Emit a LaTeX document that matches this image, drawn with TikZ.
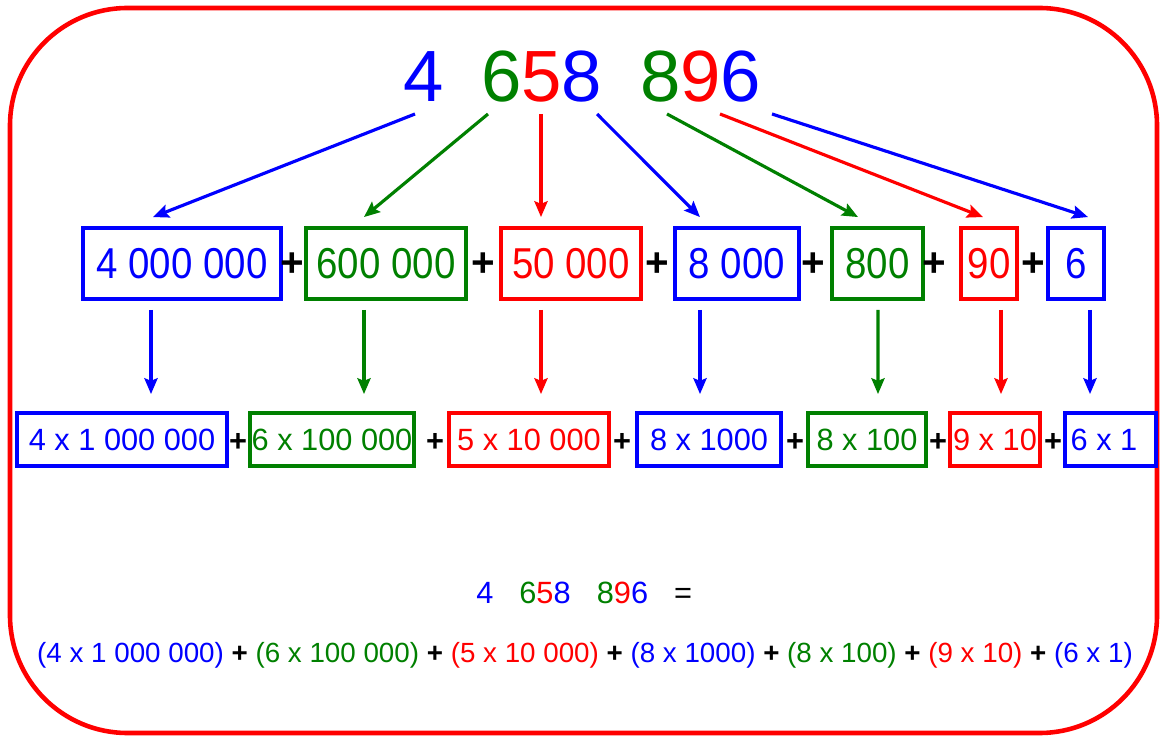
\documentclass[tikz,border=0pt]{standalone}
\usepackage{fontspec}
\setmainfont{Liberation Sans}
\newfontfamily\rowfont[FakeStretch=0.89]{Liberation Sans}
\usetikzlibrary{arrows.meta}
\definecolor{cb}{RGB}{0,0,255}
\definecolor{cg}{RGB}{0,128,0}
\definecolor{cr}{RGB}{255,0,0}
\begin{document}
\begin{tikzpicture}[x=0.02cm,y=-0.02cm,
  big/.style={anchor=base,inner sep=0pt,font=\fontsize{41.3}{48}\selectfont},
  rA/.style={draw=#1,text=#1,line width=2.2pt,inner sep=0pt,minimum height=71*0.02cm,font=\rowfont\fontsize{24.6}{28}\selectfont},
  rB/.style={draw=#1,text=#1,line width=2.2pt,inner sep=0pt,minimum height=53*0.02cm,font=\fontsize{17.5}{20}\selectfont},
  plA/.style={inner sep=0pt,font=\bfseries\fontsize{23}{28}\selectfont},
  plB/.style={inner sep=0pt,font=\bfseries\fontsize{17.5}{20}\selectfont},
  sm/.style={anchor=base,inner sep=0pt,font=\fontsize{17.5}{20}\selectfont},
  arr/.style={line width=1.8pt,-{Stealth[length=9pt,width=7.5pt,inset=1.5pt]}}]
\useasboundingbox (0,0) rectangle (1169,742);
\draw[cr,line width=2.6pt,rounded corners=2.35cm] (10,8) rectangle (1157,733);

% top number
\node[big,text=cb] (t1) at (424,102) {4};
\node[big,text=cg] (t2) at (502,102) {6};
\node[big,text=cr] (t3) at (542,102) {5};
\node[big,text=cb] (t4) at (582,102) {8};
\node[big,text=cg] (t5) at (661,102) {8};
\node[big,text=cr] (t6) at (701,102) {9};
\node[big,text=cb] (t7) at (741,102) {6};

% row 1
\node[rA=cb,minimum width=198*0.02cm] (a1) at (182,263.5) {4 000 000};
\node[rA=cg,minimum width=160*0.02cm] (a2) at (386,263.5) {600 000};
\node[rA=cr,minimum width=140*0.02cm] (a3) at (571,263.5) {50 000};
\node[rA=cb,minimum width=124*0.02cm] (a4) at (737,263.5) {8 000};
\node[rA=cg,minimum width=91*0.02cm] (a5) at (877.5,263.5) {800};
\node[rA=cr,minimum width=56*0.02cm] (a6) at (989,263.5) {90};
\node[rA=cb,minimum width=56*0.02cm] (a7) at (1076,263.5) {6};
\node[plA] (pa1) at (292,265) {+};
\node[plA] (pa2) at (483,265) {+};
\node[plA] (pa3) at (657,265) {+};
\node[plA] (pa4) at (813,265) {+};
\node[plA] (pa5) at (934,265) {+};
\node[plA] (pa6) at (1033,265) {+};

% row 2
\node[rB=cb,minimum width=210*0.02cm] (b1) at (122,439.5) {4 x 1 000 000};
\node[rB=cg,minimum width=164*0.02cm] (b2) at (332,439.5) {6 x 100 000};
\node[rB=cr,minimum width=160*0.02cm] (b3) at (529,439.5) {5 x 10 000};
\node[rB=cb,minimum width=144*0.02cm] (b4) at (709,439.5) {8 x 1000};
\node[rB=cg,minimum width=118*0.02cm] (b5) at (867,439.5) {8 x 100};
\node[rB=cr,minimum width=90*0.02cm] (b6) at (995,439.5) {9 x 10};
\node[rB=cb,minimum width=91*0.02cm] (b7) at (1110.5,439.5) {6 x 1\hspace*{0.26cm}};
\node[plB] (pb1) at (238,442) {+};
\node[plB] (pb2) at (435,442) {+};
\node[plB] (pb3) at (622,442) {+};
\node[plB] (pb4) at (795,442) {+};
\node[plB] (pb5) at (938,442) {+};
\node[plB] (pb6) at (1053,442) {+};

% top arrows
\draw[arr,cb] ([shift={(-9,12)}]t1.base) -- ([shift={(-29,-9)}]a1.north);
\draw[arr,cg] ([shift={(-14,12)}]t2.base) -- ([shift={(-22,-9)}]a2.north);
\draw[arr,cr] ([shift={(-1,12)}]t3.base) -- ([shift={(-30,-9)}]a3.north);
\draw[arr,cb] ([shift={(15,12)}]t4.base) -- ([shift={(-37,-9)}]a4.north);
\draw[arr,cg] ([shift={(6,12)}]t5.base) -- ([shift={(-19.5,-9)}]a5.north);
\draw[arr,cr] ([shift={(19,12)}]t6.base) -- ([shift={(-6,-9)}]a6.north);
\draw[arr,cb] ([shift={(31,12)}]t7.base) -- ([shift={(12,-9)}]a7.north);

% down arrows
\draw[arr,cb] ([shift={(-31,9)}]a1.south) -- ([shift={(29,-17)}]b1.north);
\draw[arr,cg] ([shift={(-22,9)}]a2.south) -- ([shift={(32,-17)}]b2.north);
\draw[arr,cr] ([shift={(-30,9)}]a3.south) -- ([shift={(12,-17)}]b3.north);
\draw[arr,cb] ([shift={(-37,9)}]a4.south) -- ([shift={(-9,-17)}]b4.north);
\draw[arr,cg] ([shift={(0.5,9)}]a5.south) -- ([shift={(11,-17)}]b5.north);
\draw[arr,cr] ([shift={(12,9)}]a6.south) -- ([shift={(6,-17)}]b6.north);
\draw[arr,cb] ([shift={(14,9)}]a7.south) -- ([shift={(-20.5,-17)}]b7.north);

% bottom
\node[sm,text=cb] (n1) at (485,603) {4};
\node[sm] (n2) at (545,603) {\color{cg}6\color{cr}5\color{cb}8};
\node[sm] (n3) at (622.5,603) {\color{cg}8\color{cr}9\color{cb}6};
\node[sm] (n4) at (683,603) {=};
\node[anchor=base,inner sep=0pt,font=\fontsize{15.8}{18}\selectfont] (eq) at (585,662)
 {{\color{cb}(4 x 1 000 000)} \textbf{+} {\color{cg}(6 x 100 000)} \textbf{+} {\color{cr}(5 x 10 000)} \textbf{+} {\color{cb}(8 x 1000)} \textbf{+} {\color{cg}(8 x 100)} \textbf{+} {\color{cr}(9 x 10)} \textbf{+} {\color{cb}(6 x 1)}};
\end{tikzpicture}
\end{document}
